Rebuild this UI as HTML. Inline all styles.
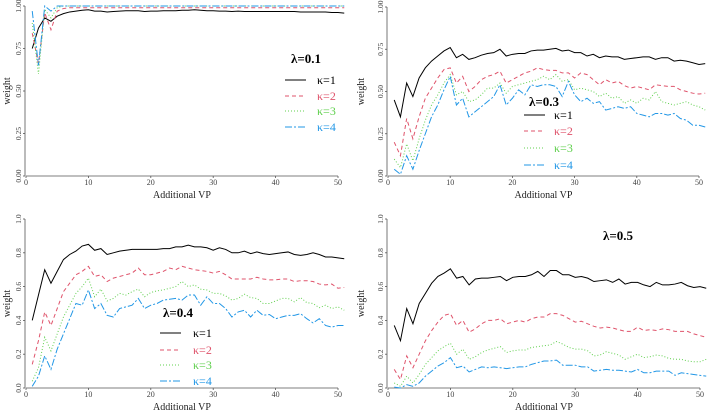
<!DOCTYPE html>
<html><head><meta charset="utf-8"><style>
html,body{margin:0;padding:0;background:#fff;}
svg{display:block;font-family:"Liberation Serif",serif;}
</style></head><body>
<svg id="chart" width="708" height="412" viewBox="0 0 708 412"></svg>
<script>
const xs = Array.from({length:51},(_, i)=>i+1);
const seriesNames = ["κ=1","κ=2","κ=3","κ=4"];
const lambdaLabels = ["λ=0.1","λ=0.3","λ=0.4","λ=0.5"];
const xTicks = [0,10,20,30,40,50];
const yTicksA = [0,0.25,0.5,0.75,1.0];
const yTickLabelsA = ["0.00","0.25","0.50","0.75","1.00"];
const yTicksB = [0,0.2,0.4,0.6,0.8,1.0];
const yTickLabelsB = ["0.0","0.2","0.4","0.6","0.8","1.0"];

const p1k1 = [0.75,0.87,0.93,0.91,0.94,0.955,0.965,0.97,0.975,0.978,0.97,0.97,0.965,0.968,0.97,0.972,0.972,0.972,0.968,0.97,0.97,0.972,0.972,0.972,0.975,0.975,0.978,0.975,0.972,0.972,0.97,0.97,0.968,0.97,0.968,0.968,0.968,0.968,0.968,0.968,0.968,0.968,0.968,0.965,0.965,0.965,0.965,0.965,0.962,0.962,0.958];
const p1k2 = [0.84,0.66,0.96,0.86,0.97,0.985,0.99,0.99,0.99,0.99,0.99,0.99,0.99,0.99,0.99,0.99,0.99,0.99,0.99,0.99,0.99,0.99,0.99,0.99,0.99,0.99,0.99,0.99,0.99,0.99,0.99,0.99,0.99,0.99,0.99,0.99,0.99,0.99,0.99,0.99,0.99,0.99,0.99,0.99,0.99,0.99,0.99,0.99,0.99,0.99,0.99];
const p1k3 = [0.90,0.60,0.98,0.93,0.99,1.0,1.0,1.0,1.0,1.0,1.0,1.0,1.0,1.0,1.0,1.0,1.0,1.0,1.0,1.0,1.0,1.0,1.0,1.0,1.0,1.0,1.0,1.0,1.0,1.0,1.0,1.0,1.0,1.0,1.0,1.0,1.0,1.0,1.0,1.0,1.0,1.0,1.0,1.0,1.0,1.0,1.0,1.0,1.0,1.0,1.0];
const p1k4 = [0.97,0.65,1.0,0.97,1.0,1.0,1.0,1.0,1.0,1.0,1.0,1.0,1.0,1.0,1.0,1.0,1.0,1.0,1.0,1.0,1.0,1.0,1.0,1.0,1.0,1.0,1.0,1.0,1.0,1.0,1.0,1.0,1.0,1.0,1.0,1.0,1.0,1.0,1.0,1.0,1.0,1.0,1.0,1.0,1.0,1.0,1.0,1.0,1.0,1.0,1.0];

const p2k1 = [0.45,0.35,0.55,0.47,0.58,0.64,0.68,0.71,0.74,0.76,0.70,0.72,0.69,0.70,0.715,0.725,0.73,0.75,0.71,0.72,0.725,0.725,0.74,0.745,0.745,0.75,0.755,0.74,0.745,0.73,0.73,0.71,0.72,0.70,0.71,0.705,0.705,0.69,0.695,0.70,0.705,0.705,0.69,0.70,0.70,0.68,0.685,0.68,0.67,0.66,0.665];
const p2k2 = [0.20,0.12,0.34,0.22,0.35,0.46,0.52,0.58,0.63,0.64,0.55,0.59,0.50,0.53,0.57,0.59,0.60,0.62,0.55,0.57,0.59,0.61,0.62,0.64,0.63,0.625,0.625,0.61,0.61,0.58,0.61,0.60,0.57,0.54,0.57,0.55,0.56,0.535,0.52,0.53,0.52,0.51,0.54,0.535,0.53,0.53,0.51,0.50,0.49,0.485,0.49];
const p2k3 = [0.10,0.05,0.19,0.09,0.22,0.33,0.42,0.48,0.55,0.60,0.48,0.50,0.44,0.45,0.48,0.52,0.52,0.55,0.49,0.53,0.54,0.55,0.56,0.57,0.59,0.57,0.60,0.56,0.57,0.51,0.52,0.51,0.50,0.47,0.49,0.46,0.47,0.43,0.45,0.43,0.46,0.45,0.50,0.44,0.43,0.42,0.43,0.44,0.42,0.41,0.39];
const p2k4 = [0.04,0.01,0.12,0.04,0.15,0.25,0.35,0.42,0.51,0.59,0.42,0.46,0.35,0.38,0.41,0.44,0.47,0.54,0.42,0.46,0.51,0.48,0.54,0.53,0.54,0.54,0.53,0.47,0.56,0.48,0.44,0.46,0.43,0.44,0.39,0.40,0.41,0.40,0.41,0.37,0.36,0.35,0.37,0.37,0.36,0.37,0.34,0.33,0.30,0.30,0.29];

const p3k1 = [0.40,0.55,0.70,0.62,0.69,0.76,0.79,0.81,0.84,0.85,0.815,0.825,0.79,0.80,0.81,0.815,0.82,0.82,0.82,0.82,0.82,0.825,0.825,0.835,0.835,0.845,0.835,0.835,0.83,0.815,0.83,0.82,0.80,0.80,0.81,0.795,0.805,0.795,0.79,0.795,0.80,0.805,0.79,0.785,0.79,0.80,0.79,0.775,0.775,0.77,0.765];
const p3k2 = [0.14,0.28,0.45,0.37,0.47,0.57,0.62,0.67,0.69,0.72,0.66,0.67,0.63,0.65,0.66,0.67,0.68,0.71,0.67,0.67,0.68,0.69,0.71,0.70,0.72,0.71,0.70,0.695,0.69,0.68,0.69,0.67,0.645,0.645,0.645,0.645,0.655,0.645,0.64,0.64,0.645,0.645,0.63,0.635,0.635,0.63,0.615,0.61,0.615,0.59,0.595];
const p3k3 = [0.04,0.12,0.30,0.22,0.32,0.42,0.49,0.56,0.60,0.65,0.54,0.585,0.515,0.53,0.56,0.55,0.57,0.585,0.54,0.565,0.575,0.58,0.59,0.60,0.63,0.60,0.61,0.585,0.58,0.56,0.56,0.545,0.52,0.53,0.555,0.535,0.53,0.50,0.50,0.515,0.53,0.53,0.51,0.535,0.505,0.50,0.475,0.49,0.47,0.48,0.46];
const p3k4 = [0.01,0.07,0.19,0.11,0.23,0.32,0.41,0.50,0.49,0.58,0.47,0.50,0.43,0.42,0.47,0.48,0.49,0.53,0.47,0.49,0.50,0.52,0.525,0.53,0.52,0.55,0.55,0.49,0.54,0.50,0.50,0.47,0.42,0.45,0.46,0.42,0.46,0.43,0.435,0.41,0.42,0.43,0.43,0.44,0.41,0.385,0.41,0.37,0.36,0.37,0.37];

const p4k1 = [0.37,0.28,0.47,0.38,0.50,0.56,0.62,0.66,0.68,0.705,0.65,0.66,0.61,0.645,0.65,0.65,0.655,0.66,0.635,0.655,0.66,0.66,0.67,0.69,0.66,0.695,0.695,0.67,0.67,0.655,0.66,0.65,0.63,0.635,0.64,0.625,0.645,0.615,0.625,0.625,0.61,0.60,0.625,0.61,0.61,0.615,0.625,0.605,0.595,0.60,0.59];
const p4k2 = [0.11,0.05,0.19,0.12,0.20,0.28,0.34,0.39,0.43,0.44,0.37,0.40,0.33,0.35,0.38,0.40,0.40,0.41,0.38,0.39,0.40,0.39,0.41,0.42,0.42,0.44,0.44,0.43,0.41,0.39,0.395,0.38,0.365,0.355,0.36,0.355,0.345,0.335,0.335,0.36,0.34,0.345,0.34,0.35,0.345,0.335,0.335,0.335,0.32,0.31,0.30];
const p4k3 = [0.03,0.01,0.07,0.03,0.08,0.14,0.18,0.22,0.245,0.265,0.20,0.23,0.17,0.185,0.21,0.225,0.235,0.245,0.21,0.22,0.225,0.225,0.24,0.245,0.25,0.255,0.275,0.26,0.24,0.23,0.23,0.22,0.19,0.195,0.215,0.205,0.195,0.17,0.185,0.20,0.18,0.185,0.195,0.19,0.175,0.17,0.17,0.16,0.155,0.155,0.17];
const p4k4 = [0.005,0.0,0.02,0.01,0.03,0.07,0.10,0.13,0.15,0.18,0.12,0.13,0.095,0.11,0.125,0.12,0.125,0.12,0.115,0.12,0.125,0.125,0.14,0.15,0.16,0.16,0.165,0.135,0.135,0.135,0.125,0.125,0.10,0.105,0.11,0.105,0.105,0.10,0.095,0.11,0.09,0.09,0.10,0.10,0.10,0.075,0.09,0.085,0.08,0.075,0.07];

const NS="http://www.w3.org/2000/svg";
const svg=document.getElementById('chart');
const colors=["#000000","#DF536B","#61D04F","#2297E6"];
const dashes=["","4,3","1,2","7,2,2,2"];
function el(tag,attrs,parent){const e=document.createElementNS(NS,tag);for(const k in attrs)e.setAttribute(k,attrs[k]);(parent||svg).appendChild(e);return e;}

const panels=[
 {x0:26,x50:338,y0:176,y1:6,ticks:yTicksA,tl:yTickLabelsA,data:[p1k1,p1k2,p1k3,p1k4],ylab:10,title:[306,63],legend:{lx:285,tx:317,ys:[80,96,111,127]}},
 {x0:388,x50:699,y0:176,y1:7,ticks:yTicksA,tl:yTickLabelsA,data:[p2k1,p2k2,p2k3,p2k4],ylab:364,title:[544,106],legend:{lx:524,tx:554,ys:[115,131,148,165]}},
 {x0:26,x50:338,y0:388,y1:219,ticks:yTicksB,tl:yTickLabelsB,data:[p3k1,p3k2,p3k3,p3k4],ylab:10,title:[178,317],legend:{lx:160,tx:193,ys:[333,350,365,381]}},
 {x0:388,x50:700,y0:388,y1:219,ticks:yTicksB,tl:yTickLabelsB,data:[p4k1,p4k2,p4k3,p4k4],ylab:364,title:[618,240],legend:null}
];
panels.forEach((p,pi)=>{
  const g=el('g',{});
  
  
  const sx=v=>p.x0+(p.x50-p.x0)*v/50;
  const sy=v=>p.y0-(p.y0-p.y1)*v;
  const xa=el('line',{x1:sx(0),x2:sx(50),y1:p.y0,y2:p.y0,stroke:'#555','stroke-width':0.8},g);
  
  
  const ya=el('line',{x1:p.x0-1,x2:p.x0-1,y1:sy(0),y2:sy(1),stroke:'#555','stroke-width':0.8},g);
  
  
  xTicks.forEach(t=>{
    el('line',{x1:sx(t),x2:sx(t),y1:p.y0,y2:p.y0+2,stroke:'#555','stroke-width':0.8},g);
    const tx=el('text',{x:sx(t),y:p.y0+9,'font-size':8,'text-anchor':'middle',fill:'#444'},g);
    tx.textContent=t;
    
    
  });
  p.ticks.forEach((t,i)=>{
    el('line',{x1:p.x0-3,x2:p.x0-1,y1:sy(t),y2:sy(t),stroke:'#555','stroke-width':0.8},g);
    const tx=el('text',{x:p.x0-5,y:sy(t),'font-size':7.5,'text-anchor':'middle',fill:'#444',transform:`rotate(-90 ${p.x0-5} ${sy(t)})`},g);
    tx.textContent=p.tl[i];
    
    
  });
  const xl=el('text',{x:(sx(0)+sx(50))/2,y:p.y0+22,'font-size':10,'text-anchor':'middle',fill:'#222'},g);
  xl.textContent='Additional VP';
  
  
  const ymid=(sy(0)+sy(1))/2;
  const yl=el('text',{x:p.ylab,y:ymid,'font-size':10,'text-anchor':'middle',fill:'#222',transform:`rotate(-90 ${p.ylab} ${ymid})`},g);
  yl.textContent='weight';
  
  
  p.data.forEach((arr,si)=>{
    const d=arr.map((v,i)=>(i?'L':'M')+sx(xs[i]).toFixed(2)+','+sy(v).toFixed(2)).join(' ');
    const path=el('path',{d:d,fill:'none',stroke:colors[si],'stroke-width':1,'stroke-dasharray':dashes[si]},g);
    
    
  });
  const tt=el('text',{x:p.title[0],y:p.title[1],'font-size':13,'font-weight':'bold','text-anchor':'middle',fill:'#000'},g);
  tt.textContent=lambdaLabels[pi];
  
  
  if(p.legend){
    const lg=el('g',{},g);
    
    
    p.legend.ys.forEach((yy,si)=>{
      const ln=el('line',{x1:p.legend.lx,x2:p.legend.lx+21,y1:yy,y2:yy,stroke:colors[si],'stroke-width':1,'stroke-dasharray':dashes[si]},lg);
      
      
      const t=el('text',{x:p.legend.tx,y:yy+4,'font-size':12,fill:colors[si]},lg);
      t.textContent=seriesNames[si];
      
      
    });
  }
});
</script>
</body></html>
